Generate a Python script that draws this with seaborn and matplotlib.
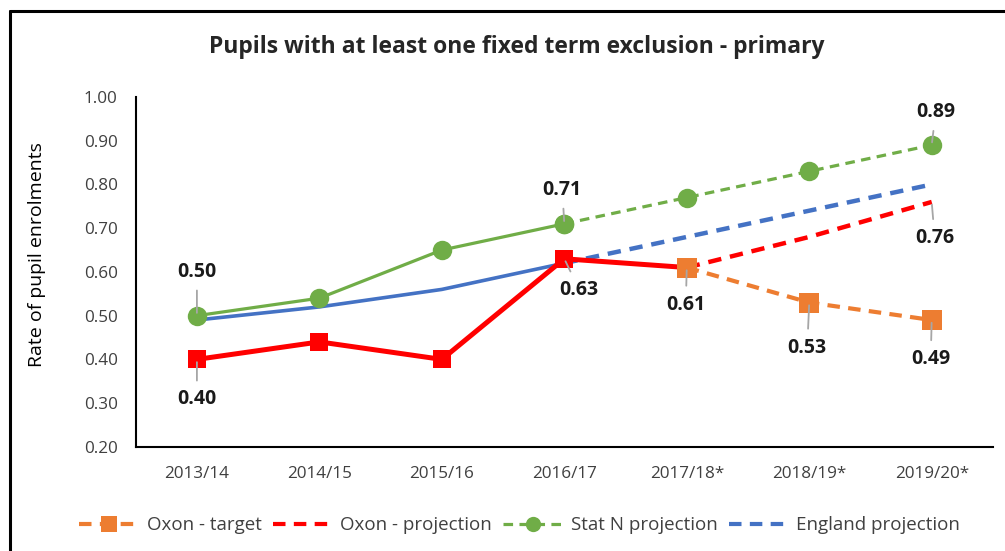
import numpy as np
import pandas as pd
import matplotlib
matplotlib.use('Agg')
import matplotlib.pyplot as plt
from matplotlib.lines import Line2D
import seaborn as sns

years = ['2013/14', '2014/15', '2015/16', '2016/17', '2017/18*', '2018/19*', '2019/20*']

# actual values (solid lines)
oxon_actual = [0.40, 0.44, 0.40, 0.63, 0.61, np.nan, np.nan]
statn_actual = [0.50, 0.54, 0.65, 0.71, np.nan, np.nan, np.nan]
england_actual = [0.49, 0.52, 0.56, 0.62, np.nan, np.nan, np.nan]

# projections / target (dashed lines)
oxon_target = [np.nan, np.nan, np.nan, np.nan, 0.61, 0.53, 0.49]
oxon_projection = [np.nan, np.nan, np.nan, np.nan, 0.61, 0.68, 0.76]
statn_projection = [np.nan, np.nan, np.nan, 0.71, 0.77, 0.83, 0.89]
england_projection = [np.nan, np.nan, np.nan, 0.62, 0.68, 0.74, 0.80]

# data labels: (year index, value, offset in pixels)
labels = [
    (0, 0.50, (0, 44)),
    (0, 0.40, (0, -40)),
    (3, 0.71, (-2, 34)),
    (3, 0.63, (15, -31)),
    (4, 0.61, (-1, -37)),
    (5, 0.53, (-2, -45)),
    (6, 0.49, (-1, -39)),
    (6, 0.89, (4, 33)),
    (6, 0.76, (3, -36)),
]

ORANGE = '#ED7D31'
RED = '#FF0000'
GREEN = '#70AD47'
BLUE = '#4472C4'

sns.set_style('white')
plt.rcParams['font.family'] = ['Open Sans', 'DejaVu Sans']

fig = plt.figure(figsize=(10.05, 5.51), dpi=100)
ax = fig.add_axes([0.135, 0.189, 0.853, 0.635])

x = np.arange(len(years))
df = pd.DataFrame({'x': x})

def draw(vals, color, lw, ls='-', marker=None, ms=0):
    d = df.assign(y=vals).dropna()
    sns.lineplot(data=d, x='x', y='y', ax=ax, color=color, linewidth=lw,
                 linestyle=ls, marker=marker, markersize=ms,
                 markeredgewidth=0, zorder=3)

dash = (0, (3, 2))
draw(england_projection, BLUE, 3.2, ls=dash)
draw(england_actual, BLUE, 2.6)
draw(statn_projection, GREEN, 2.3, ls=dash, marker='o', ms=14)
draw(statn_actual, GREEN, 2.3, marker='o', ms=14)
draw(oxon_projection, RED, 3.2, ls=dash)
draw(oxon_actual, RED, 3.6)
# first 4 actual oxon points get red square markers
d = df.assign(y=oxon_actual).iloc[:4]
sns.scatterplot(data=d, x='x', y='y', ax=ax, color=RED, marker='s', s=185,
                linewidth=0, zorder=4)
draw(oxon_target, ORANGE, 3.0, ls=dash, marker='s', ms=14)

for i, v, off in labels:
    ax.annotate(f'{v:.2f}', xy=(x[i], v), xytext=off, textcoords='offset pixels',
                ha='center', va='center', fontsize=14, fontweight='bold',
                color='#1a1a1a',
                arrowprops=dict(arrowstyle='-', color='#A6A6A6', lw=1.3,
                                shrinkA=4, shrinkB=2), zorder=5)

ax.set_xlim(-0.5, len(years) - 0.5)
ax.set_ylim(0.2, 1.0)
ax.set_yticks(np.arange(0.2, 1.01, 0.1))
ax.set_yticklabels([f'{t:.2f}' for t in np.arange(0.2, 1.01, 0.1)])
ax.set_xticks(x)
ax.set_xticklabels(years)
ax.tick_params(axis='both', labelsize=12.3, colors='#404040', length=0, pad=14)
ax.tick_params(axis='y', pad=13)
ax.set_xlabel('')
ax.set_ylabel('Rate of pupil enrolments', fontsize=14, color='black')
ax.yaxis.set_label_coords(-0.105, 0.55)
sns.despine(ax=ax, top=True, right=True)
for s in ['left', 'bottom']:
    ax.spines[s].set_color('black')
    ax.spines[s].set_linewidth(1.5)

fig.text(0.514, 0.915, 'Pupils with at least one fixed term exclusion - primary',
         ha='center', va='center', fontsize=16.5, fontweight='bold')

handles = [
    Line2D([], [], color=ORANGE, lw=3, ls=dash, marker='s', ms=11, mew=0),
    Line2D([], [], color=RED, lw=3, ls=dash),
    Line2D([], [], color=GREEN, lw=2.3, ls=dash, marker='o', ms=11, mew=0),
    Line2D([], [], color=BLUE, lw=3, ls=dash),
]
names = ['Oxon - target', 'Oxon - projection', 'Stat N projection', 'England projection']
fig.legend(handles, names, loc='center', bbox_to_anchor=(0.517, 0.047), ncol=4,
           frameon=False, fontsize=13.5, handlelength=3.2, handletextpad=0.4,
           columnspacing=0.6, labelcolor='#404040')

# outer frame (top and left edges visible)
fig.add_artist(Line2D([0.0095, 1.0], [0.98, 0.98], transform=fig.transFigure,
                      color='black', lw=2.2))
fig.add_artist(Line2D([0.0095, 0.0095], [0.0, 0.98], transform=fig.transFigure,
                      color='black', lw=2.2))

fig.savefig('out.png', dpi=100)
